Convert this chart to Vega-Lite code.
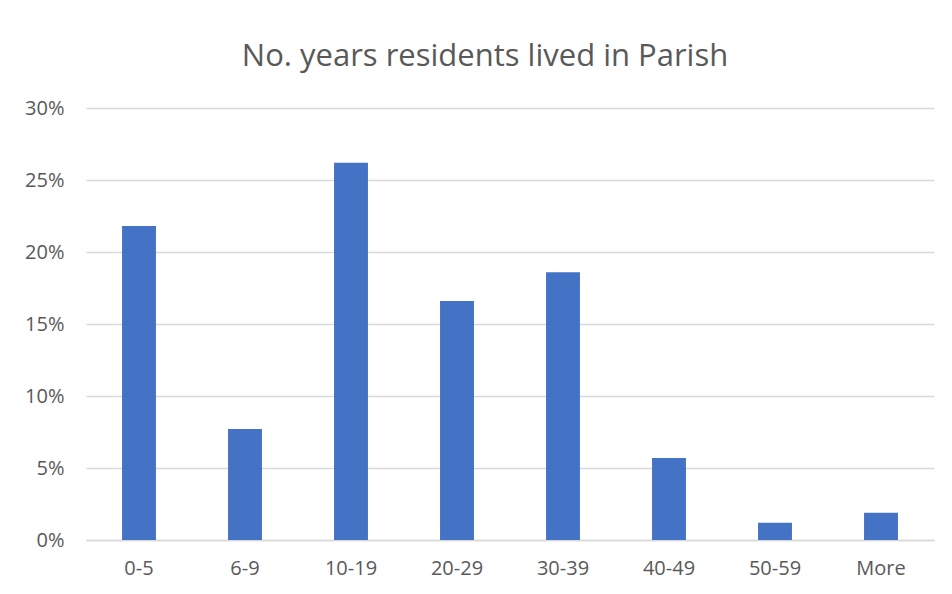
{
  "$schema": "https://vega.github.io/schema/vega-lite/v6.json",
  "width": 848,
  "height": 432,
  "autosize": {"type": "none"},
  "padding": {"left": 86, "top": 108, "right": 18, "bottom": 54},
  "background": "white",
  "title": {
    "text": "No. years residents lived in Parish",
    "font": "Open Sans",
    "fontSize": 31,
    "fontWeight": "normal",
    "color": "#595959",
    "anchor": "middle",
    "dx": -25,
    "offset": 25
  },
  "data": {
    "values": [
      {"years": "0-5", "pct": 0.218},
      {"years": "6-9", "pct": 0.077},
      {"years": "10-19", "pct": 0.262},
      {"years": "20-29", "pct": 0.166},
      {"years": "30-39", "pct": 0.186},
      {"years": "40-49", "pct": 0.057},
      {"years": "50-59", "pct": 0.012},
      {"years": "More", "pct": 0.019}
    ]
  },
  "mark": {"type": "bar", "color": "#4472C4"},
  "encoding": {
    "x": {
      "field": "years",
      "type": "nominal",
      "sort": null,
      "scale": {"paddingInner": 0.68, "paddingOuter": 0.34},
      "axis": {
        "title": null,
        "labelAngle": 0,
        "labelFont": "Open Sans",
        "labelFontSize": 20,
        "labelColor": "#595959",
        "labelPadding": 18,
        "ticks": false,
        "domainColor": "#d9d9d9",
        "domainWidth": 1.5
      }
    },
    "y": {
      "field": "pct",
      "type": "quantitative",
      "scale": {"domain": [0, 0.3]},
      "axis": {
        "title": null,
        "format": ".0%",
        "values": [0, 0.05, 0.1, 0.15, 0.2, 0.25, 0.3],
        "labelFont": "Open Sans",
        "labelFontSize": 20,
        "labelColor": "#595959",
        "labelPadding": 22,
        "ticks": false,
        "domain": false,
        "gridColor": "#d9d9d9",
        "gridWidth": 1.5
      }
    }
  },
  "config": {"view": {"stroke": null}}
}
